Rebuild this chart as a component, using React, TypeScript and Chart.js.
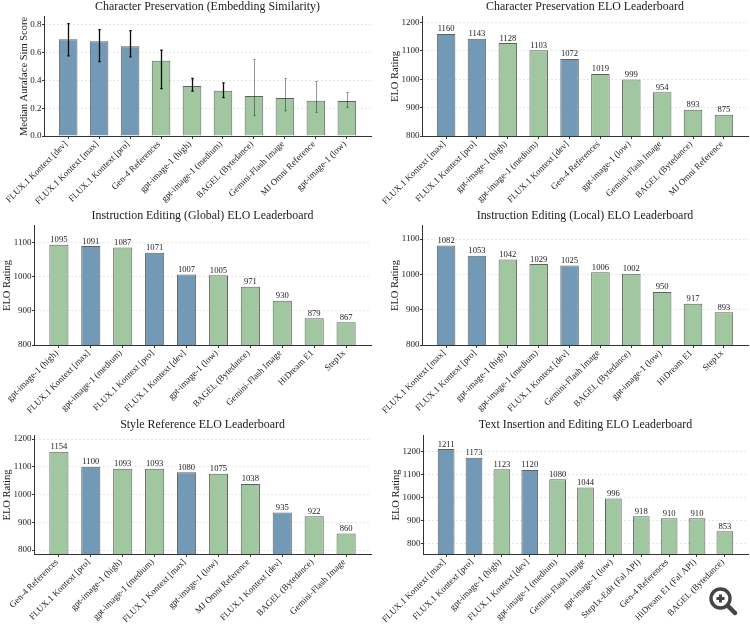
import React, { useEffect, useRef } from "react";
import { Chart, registerables } from "chart.js";

Chart.register(...registerables);

const p1Title = "Character Preservation (Embedding Similarity)";
const p1Labels = ["FLUX.1 Kontext [dev]", "FLUX.1 Kontext [max]", "FLUX.1 Kontext [pro]", "Gen-4 References", "gpt-image-1 (high)", "gpt-image-1 (medium)", "BAGEL (Bytedance)", "Gemini-Flash Image", "MJ Omni Reference", "gpt-image-1 (low)"];
const p1Values = [0.695, 0.68, 0.645, 0.54, 0.36, 0.325, 0.287, 0.273, 0.253, 0.252];
const p1ErrLow = [0.575, 0.535, 0.568, 0.341, 0.322, 0.275, 0.146, 0.181, 0.17, 0.205];
const p1ErrHigh = [0.807, 0.764, 0.757, 0.616, 0.413, 0.382, 0.549, 0.413, 0.392, 0.313];
const p1Ticks = [0, 0.2, 0.4, 0.6, 0.8];

const p2Title = "Character Preservation ELO Leaderboard";
const p2Labels = ["FLUX.1 Kontext [max]", "FLUX.1 Kontext [pro]", "gpt-image-1 (high)", "gpt-image-1 (medium)", "FLUX.1 Kontext [dev]", "Gen-4 References", "gpt-image-1 (low)", "Gemini-Flash Image", "BAGEL (Bytedance)", "MJ Omni Reference"];
const p2Values = [1160, 1143, 1128, 1103, 1072, 1019, 999, 954, 893, 875];
const p2Ticks = [800, 900, 1000, 1100, 1200];

const p3Title = "Instruction Editing (Global) ELO Leaderboard";
const p3Labels = ["gpt-image-1 (high)", "FLUX.1 Kontext [max]", "gpt-image-1 (medium)", "FLUX.1 Kontext [pro]", "FLUX.1 Kontext [dev]", "gpt-image-1 (low)", "BAGEL (Bytedance)", "Gemini-Flash Image", "HiDream E1", "Step1x"];
const p3Values = [1095, 1091, 1087, 1071, 1007, 1005, 971, 930, 879, 867];
const p3Ticks = [800, 900, 1000, 1100];

const p4Title = "Instruction Editing (Local) ELO Leaderboard";
const p4Labels = ["FLUX.1 Kontext [max]", "FLUX.1 Kontext [pro]", "gpt-image-1 (high)", "gpt-image-1 (medium)", "FLUX.1 Kontext [dev]", "Gemini-Flash Image", "BAGEL (Bytedance)", "gpt-image-1 (low)", "HiDream E1", "Step1x"];
const p4Values = [1082, 1053, 1042, 1029, 1025, 1006, 1002, 950, 917, 893];
const p4Ticks = [800, 900, 1000, 1100];

const p5Title = "Style Reference ELO Leaderboard";
const p5Labels = ["Gen-4 References", "FLUX.1 Kontext [pro]", "gpt-image-1 (high)", "gpt-image-1 (medium)", "FLUX.1 Kontext [max]", "gpt-image-1 (low)", "MJ Omni Reference", "FLUX.1 Kontext [dev]", "BAGEL (Bytedance)", "Gemini-Flash Image"];
const p5Values = [1154, 1100, 1093, 1093, 1080, 1075, 1038, 935, 922, 860];
const p5Ticks = [800, 900, 1000, 1100, 1200];

const p6Title = "Text Insertion and Editing ELO Leaderboard";
const p6Labels = ["FLUX.1 Kontext [max]", "FLUX.1 Kontext [pro]", "gpt-image-1 (high)", "FLUX.1 Kontext [dev]", "gpt-image-1 (medium)", "Gemini-Flash Image", "gpt-image-1 (low)", "Step1x-Edit (Fal API)", "Gen-4 References", "HiDream E1 (Fal API)", "BAGEL (Bytedance)"];
const p6Values = [1211, 1173, 1123, 1120, 1080, 1044, 996, 918, 910, 910, 853];
const p6Ticks = [800, 900, 1000, 1100, 1200];

const BLUE = "#7299b6";
const GREEN = "#a0c7a0";
const EDGE = "rgba(35,35,35,0.72)";
const AXIS = "#333333";
const FONT = "'Liberation Serif', 'Times New Roman', serif";

type Panel = {
  title: string; labels: string[]; values: number[]; ticks: number[];
  yTitle: string; yTitlePad: number; yMin: number; yMax: number; margin: number;
  left: number; top: number; plotLeft: number; plotRight: number; plotTop: number; plotBottom: number;
  decimals: number; showValues: boolean; errLow?: number[]; errHigh?: number[];
};

const W = 375;
const panels: Panel[] = [
  { title: p1Title, labels: p1Labels, values: p1Values, ticks: p1Ticks, yTitle: "Median Auraface Sim Score", yTitlePad: 18, yMin: 0, yMax: 0.855, margin: 0.78, left: 0, top: 0, plotLeft: 44, plotRight: 371, plotTop: 17, plotBottom: 136, decimals: 1, showValues: false, errLow: p1ErrLow, errHigh: p1ErrHigh },
  { title: p2Title, labels: p2Labels, values: p2Values, ticks: p2Ticks, yTitle: "ELO Rating", yTitlePad: 14, yMin: 800, yMax: 1220, margin: 0.78, left: 375, top: 0, plotLeft: 47, plotRight: 373, plotTop: 17, plotBottom: 136, decimals: 0, showValues: true },
  { title: p3Title, labels: p3Labels, values: p3Values, ticks: p3Ticks, yTitle: "ELO Rating", yTitlePad: 1, yMin: 800, yMax: 1150, margin: 0.78, left: 0, top: 209, plotLeft: 34, plotRight: 371, plotTop: 17, plotBottom: 136, decimals: 0, showValues: true },
  { title: p4Title, labels: p4Labels, values: p4Values, ticks: p4Ticks, yTitle: "ELO Rating", yTitlePad: 14, yMin: 800, yMax: 1137, margin: 0.78, left: 375, top: 209, plotLeft: 47, plotRight: 373, plotTop: 17, plotBottom: 136, decimals: 0, showValues: true },
  { title: p5Title, labels: p5Labels, values: p5Values, ticks: p5Ticks, yTitle: "ELO Rating", yTitlePad: 1, yMin: 786, yMax: 1211, margin: 0.78, left: 0, top: 418, plotLeft: 34, plotRight: 371, plotTop: 18, plotBottom: 136, decimals: 0, showValues: true },
  { title: p6Title, labels: p6Labels, values: p6Values, ticks: p6Ticks, yTitle: "ELO Rating", yTitlePad: 15, yMin: 754, yMax: 1268, margin: 0.83, left: 375, top: 418, plotLeft: 48, plotRight: 373, plotTop: 18, plotBottom: 136, decimals: 0, showValues: true },
];
const H = 209;

function isBlue(label: string) {
  return label.startsWith("FLUX");
}

const marksPlugin = {
  id: "marks",
  afterDatasetsDraw(chart: any, _a: any, opts: any) {
    const p: Panel = opts.panel;
    const { ctx, scales } = chart;
    ctx.save();
    if (p.errLow && p.errHigh) {
      p.values.forEach((_, i) => {
        const x = Math.round(scales.x.getPixelForValue(i)) + 0.5;
        const y0 = scales.y.getPixelForValue(p.errLow![i]);
        const y1 = scales.y.getPixelForValue(p.errHigh![i]);
        ctx.strokeStyle = i < 6 ? "rgba(0,0,0,0.95)" : "rgba(0,0,0,0.4)";
        ctx.lineWidth = i < 6 ? 1.3 : 1;
        ctx.beginPath();
        ctx.moveTo(x, y0); ctx.lineTo(x, y1);
        ctx.moveTo(x - 1.2, y0); ctx.lineTo(x + 1.2, y0);
        ctx.moveTo(x - 1.2, y1); ctx.lineTo(x + 1.2, y1);
        ctx.stroke();
      });
    }
    if (p.showValues) {
      ctx.font = `8.6px ${FONT}`;
      ctx.fillStyle = "#1a1a1a";
      ctx.textAlign = "center";
      ctx.textBaseline = "bottom";
      p.values.forEach((v, i) => {
        ctx.fillText(String(v), scales.x.getPixelForValue(i), scales.y.getPixelForValue(v) - 0.5);
      });
    }
    ctx.restore();
  },
};

function PanelChart({ p }: { p: Panel }) {
  const ref = useRef<HTMLCanvasElement>(null);
  useEffect(() => {
    const chart = new Chart(ref.current!, {
      type: "bar",
      data: {
        datasets: [{
          data: p.values.map((y, x) => ({ x, y })),
          backgroundColor: p.labels.map((l) => (isBlue(l) ? BLUE : GREEN)),
          borderColor: EDGE,
          borderWidth: 1,
          barPercentage: 0.6,
          categoryPercentage: 1,
        }],
      },
      options: {
        responsive: false,
        animation: false,
        devicePixelRatio: 1,
        layout: { padding: { left: 0, right: W - p.plotRight, top: 0, bottom: 0 } },
        plugins: {
          legend: { display: false },
          tooltip: { enabled: false },
          title: {
            display: true,
            text: p.title,
            fullSize: false,
            color: "#1a1a1a",
            font: { family: FONT, size: 11.9, weight: "normal", lineHeight: 1.2 },
            padding: { top: 0, bottom: p.plotTop - 14.3 },
          },
          marks: { panel: p },
        } as any,
        scales: {
          x: {
            type: "linear",
            offset: false,
            min: -p.margin,
            max: p.labels.length - 1 + p.margin,
            afterBuildTicks: (s: any) => { s.ticks = p.labels.map((_, i) => ({ value: i })); },
            afterFit: (s: any) => { s.height = H - p.plotBottom; },
            grid: { display: true, drawOnChartArea: false, offset: false, tickLength: 3, tickColor: AXIS, drawTicks: true },
            border: { display: true, color: AXIS, width: 1 },
            ticks: {
              autoSkip: false, minRotation: 45, maxRotation: 45, padding: 0, labelOffset: -2,
              color: "#1a1a1a", font: { family: FONT, size: 9 },
              callback: (v: any) => p.labels[v as number],
            },
          },
          y: {
            type: "linear",
            min: p.yMin,
            max: p.yMax,
            afterBuildTicks: (s: any) => { s.ticks = p.ticks.map((value) => ({ value })); },
            afterFit: (s: any) => { s.width = p.plotLeft; },
            grid: { color: "rgba(120,120,120,0.18)", tickColor: AXIS, tickLength: 2, lineWidth: 1, tickBorderDash: [], drawTicks: true },
            border: { display: true, color: AXIS, width: 1, dash: [2, 2], dashOffset: 0 },
            ticks: {
              padding: 0.5, color: "#1a1a1a", font: { family: FONT, size: 9 },
              callback: (v: any) => Number(v).toFixed(p.decimals),
            },
            title: {
              display: true, text: p.yTitle, color: "#1a1a1a",
              font: { family: FONT, size: 10.5, lineHeight: 1.2 },
              padding: { top: p.yTitlePad, bottom: 0 },
            },
          },
        },
      },
      plugins: [marksPlugin, {
        id: "axisLine",
        afterDraw(c: any) {
          const { ctx, chartArea } = c;
          ctx.save();
          ctx.strokeStyle = AXIS;
          ctx.lineWidth = 1;
          ctx.beginPath();
          ctx.moveTo(chartArea.left + 0.5, chartArea.top);
          ctx.lineTo(chartArea.left + 0.5, chartArea.bottom);
          ctx.stroke();
          ctx.restore();
        },
      }] as any,
    } as any);
    return () => chart.destroy();
  }, [p]);
  return (
    <canvas
      ref={ref}
      width={W}
      height={H}
      style={{ position: "absolute", left: p.left, top: p.top, width: W, height: H, display: "block" }}
    />
  );
}

export default function App() {
  return (
    <div style={{ position: "absolute", left: 0, top: 0, width: 750, height: 627, background: "#fff", overflow: "hidden" }}>
      {panels.map((p) => <PanelChart key={p.title} p={p} />)}
      <svg style={{ position: "absolute", left: 708, top: 586, width: 32, height: 32 }} viewBox="0 0 32 32">
        <circle cx="12.5" cy="12.5" r="9.5" fill="rgba(255,255,255,0.7)" stroke="#444" strokeWidth="3.4" />
        <path d="M12.5 8.5v8M8.5 12.5h8" stroke="#444" strokeWidth="3" />
        <path d="M20 20L27 27" stroke="#444" strokeWidth="4.5" strokeLinecap="round" />
      </svg>
    </div>
  );
}
